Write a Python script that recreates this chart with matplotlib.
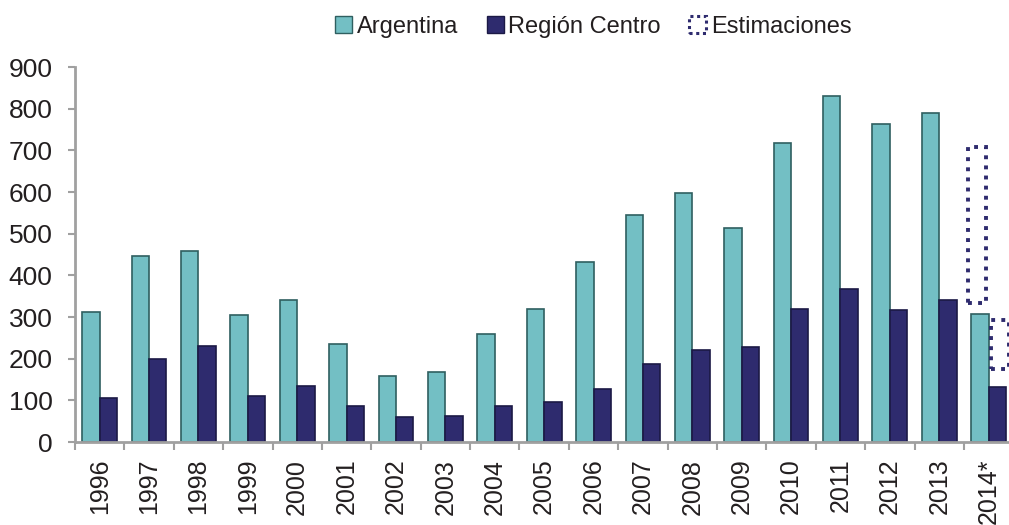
import numpy as np
import matplotlib
matplotlib.use("Agg")
import matplotlib.pyplot as plt
from matplotlib.patches import Patch

plt.rcParams["font.family"] = ["Liberation Sans", "DejaVu Sans"]
NARROW = ["Liberation Sans Narrow", "Liberation Sans", "DejaVu Sans"]

years = ["1996", "1997", "1998", "1999", "2000", "2001", "2002", "2003", "2004", "2005",
         "2006", "2007", "2008", "2009", "2010", "2011", "2012", "2013", "2014*"]
argentina = [313, 446, 458, 305, 341, 235, 158, 168, 259, 319,
             432, 545, 598, 514, 718, 830, 763, 790, 308]
region_centro = [106, 199, 230, 110, 134, 86, 60, 62, 86, 96,
                 127, 187, 221, 228, 319, 367, 317, 341, 133]
# estimation ranges for 2014* (low, high)
est_argentina = (333, 707)
est_centro = (175, 294)

TEAL = "#73BFC4"
TEAL_EDGE = "#2F5F60"
NAVY = "#2E2B6E"
NAVY_EDGE = "#1B1945"
AXIS = "#A0A0A0"
TEXT = "#231F20"

fig = plt.figure(figsize=(10.09, 5.25), dpi=100)
ax = fig.add_axes([0.0743, 0.158, 0.93, 0.7143])

x = np.arange(len(years))
w = 0.352
ax.bar(x - w / 2, argentina, w, color=TEAL, edgecolor=TEAL_EDGE, linewidth=1.2, zorder=2)
ax.bar(x + w / 2, region_centro, w, color=NAVY, edgecolor=NAVY_EDGE, linewidth=1.2, zorder=2)

# dotted estimation boxes on top of the last year
last = x[-1]
ax.bar(last - w / 2 - 0.06, est_argentina[1] - est_argentina[0], w * 1.05,
       bottom=est_argentina[0], fill=False, edgecolor=NAVY, linestyle=(0, (1, 1.6)),
       linewidth=2.8, zorder=3)
ax.bar(last + w / 2 + 0.05, est_centro[1] - est_centro[0], w * 1.05,
       bottom=est_centro[0], fill=False, edgecolor=NAVY, linestyle=(0, (1, 1.6)),
       linewidth=2.8, zorder=3, clip_on=False)

ax.set_ylim(0, 900)
ax.set_yticks(range(0, 901, 100))
ax.set_xlim(-0.5, 18.3)
ax.set_xticks(x)
ax.set_xticklabels(years, rotation=90, fontsize=18, family=NARROW, color=TEXT)
ax.set_xticks(np.arange(-0.5, len(years), 1), minor=True)
ax.tick_params(axis="x", which="major", length=0, pad=12)
ax.tick_params(axis="x", which="minor", length=6, color=AXIS, width=1.5, direction="out")
ax.tick_params(axis="y", length=5, color=AXIS, width=1.5, direction="out",
               labelsize=19, pad=11, labelcolor=TEXT)

for s in ["top", "right"]:
    ax.spines[s].set_visible(False)
for s in ["left", "bottom"]:
    ax.spines[s].set_color(AXIS)
    ax.spines[s].set_linewidth(2)

handles = [
    Patch(facecolor=TEAL, edgecolor=TEAL_EDGE, label="Argentina"),
    Patch(facecolor=NAVY, edgecolor=NAVY_EDGE, label="Región Centro"),
    Patch(facecolor="none", edgecolor=NAVY, linestyle=(0, (1, 1.2)), linewidth=2.2,
          label="Estimaciones"),
]
fig.legend(handles=handles, loc="center", bbox_to_anchor=(0.588, 0.949), ncol=3,
           frameon=False, prop={"family": NARROW, "size": 17}, labelcolor=TEXT,
           handlelength=0.72, handleheight=0.72, handletextpad=0.2, columnspacing=1.2,
           borderpad=0.1)

fig.savefig("out.png", dpi=100)
